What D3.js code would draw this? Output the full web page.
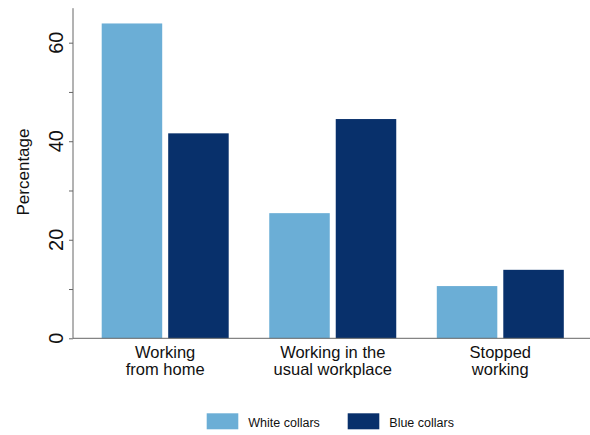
<!DOCTYPE html>
<html>
<head>
<meta charset="utf-8">
<script src="https://cdn.jsdelivr.net/npm/d3@7"></script>
<style>
  html, body { margin: 0; padding: 0; background: #fff; }
  svg { display: block; font-family: "Liberation Sans", Arial, Helvetica, sans-serif; }
</style>
</head>
<body>
<svg id="chart" width="590" height="435"></svg>
<script>
const categories = [["Working", "from home"], ["Working in the", "usual workplace"], ["Stopped", "working"]];
const seriesNames = ["White collars", "Blue collars"];
const whiteCollars = [63.9, 25.4, 10.6];
const blueCollars = [41.6, 44.5, 13.9];
const majorTicks = [0, 20, 40, 60];
const minorTicks = [10, 30, 50];
const colors = ["#6baed6", "#08306b"];

const svg = d3.select("#chart");
const axisX = 73, baseY = 338.3;

const y = d3.scaleLinear().domain([0, 67]).range([baseY, baseY - 67 * 4.927]);
const x0 = d3.scalePoint().domain(d3.range(categories.length)).range([165.2, 500.3]);
const x1 = d3.scaleBand().domain([0, 1]).range([-63.5, 63.5]).paddingInner(0.09);

const series = [whiteCollars, blueCollars];

// bars
series.forEach((vals, s) => {
  svg.append("g").selectAll("rect").data(vals).join("rect")
    .attr("x", (d, i) => x0(i) + x1(s))
    .attr("y", d => y(d))
    .attr("width", x1.bandwidth())
    .attr("height", d => y(0) - y(d))
    .attr("fill", colors[s]);
});

// y axis
const yAxis = svg.append("g").attr("transform", `translate(${axisX},0)`);
yAxis.call(d3.axisLeft(y).tickValues(majorTicks.concat(minorTicks)).tickSize(4).tickFormat(""));
yAxis.select(".domain").attr("stroke", "#666").attr("d", `M0,${baseY}V${y(67)}`);
yAxis.selectAll(".tick line").attr("stroke", "#666");

svg.append("g").selectAll("text").data(majorTicks).join("text")
  .attr("transform", d => `translate(63,${y(d)}) rotate(-90)`)
  .attr("text-anchor", "middle")
  .attr("font-size", 20)
  .attr("fill", "#111")
  .text(d => d);

svg.append("text")
  .attr("transform", `translate(29,172) rotate(-90)`)
  .attr("text-anchor", "middle")
  .attr("font-size", 17)
  .attr("fill", "#111")
  .text("Percentage");

// x axis line
svg.append("line")
  .attr("x1", axisX).attr("x2", 590)
  .attr("y1", baseY).attr("y2", baseY)
  .attr("stroke", "#666");

// category labels (one text per line)
categories.forEach((lines, i) => {
  lines.forEach((t, j) => {
    svg.append("text")
      .attr("x", x0(i))
      .attr("y", 358 + j * 17)
      .attr("text-anchor", "middle")
      .attr("font-size", 16.5)
      .attr("fill", "#111")
      .text(t);
  });
});

// legend
const legendX = [206.7, 347.7];
seriesNames.forEach((name, s) => {
  svg.append("rect")
    .attr("x", legendX[s]).attr("y", 413.3)
    .attr("width", 31.6).attr("height", 16)
    .attr("fill", colors[s]);
  svg.append("text")
    .attr("x", legendX[s] + 41.6).attr("y", 427)
    .attr("font-size", 12.5)
    .attr("fill", "#111")
    .text(name);
});
</script>
</body>
</html>
